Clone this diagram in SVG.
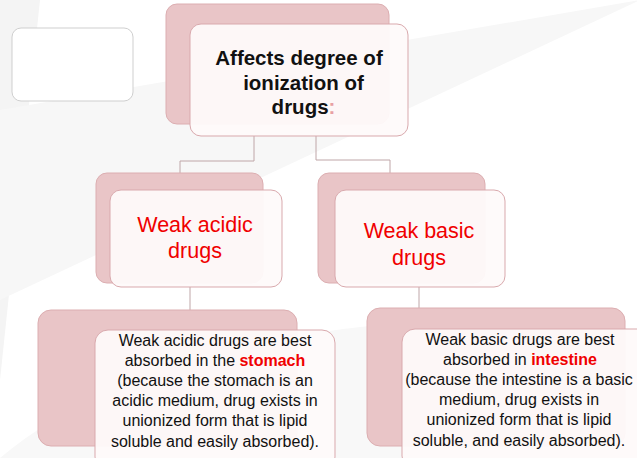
<svg xmlns="http://www.w3.org/2000/svg" width="637" height="458" viewBox="0 0 637 458">
<style>
.back{fill:#e9c5c7;stroke:#dcaeb1;stroke-width:1}
.front{fill:#fefafa;fill-opacity:0.95;stroke:#d9a9ad;stroke-width:1}
.conn{fill:none;stroke:#bfa6a8;stroke-width:1}
.t{font-family:"Liberation Sans",Arial,sans-serif;text-anchor:middle}
.title{font-size:20.5px;font-weight:bold;fill:#111}
.red{font-size:21.5px;fill:#f00000}
.body{font-size:16px;fill:#111}
.hl{fill:#f00000;font-weight:bold}
</style>
<rect width="637" height="458" fill="#ffffff"/>
<path d="M0,0 L40,0 L0,380 Z" fill="#f4f4f4"/>
<path d="M0,110 L640,0 L0,300 Z" fill="#f7f7f7"/>
<path d="M0,458 C150,330 450,300 637,330 L637,458 Z" fill="#f8f8f8"/>
<g id="blank">
<rect x="12" y="28" width="121" height="73" rx="9" fill="#ffffff" stroke="#cfcfcf"/>
</g>
<g id="connectors">
<path class="conn" d="M254,136 V161 H180 V173"/>
<path class="conn" d="M316,136 V160 H390 V173"/>
<path class="conn" d="M190,287 V310"/>
<path class="conn" d="M419,287 V308"/>
</g>
<g id="top">
<rect class="back" x="166" y="4" width="223" height="120" rx="11"/>
<rect class="front" x="190" y="24" width="218" height="112" rx="11"/>
<text class="t title" x="299" y="65">Affects degree of</text>
<text class="t title" x="303.5" y="90">ionization of</text>
<text class="t title" x="303.5" y="114">drugs<tspan fill="#e8a0a4">:</tspan></text>
</g>
<g id="acidic">
<rect class="back" x="96" y="173" width="167" height="110" rx="11"/>
<rect class="front" x="110" y="190" width="172" height="97" rx="11"/>
<text class="t red" x="195" y="232">Weak acidic</text>
<text class="t red" x="195" y="258">drugs</text>
</g>
<g id="basic">
<rect class="back" x="318" y="173" width="167" height="110" rx="11"/>
<rect class="front" x="335" y="190" width="170" height="97" rx="11"/>
<text class="t red" x="419" y="238">Weak basic</text>
<text class="t red" x="419" y="265">drugs</text>
</g>
<g id="acidic-detail">
<rect class="back" x="38" y="310" width="259" height="136" rx="13"/>
<rect class="front" x="95" y="330" width="240" height="140" rx="13"/>
<text class="t body" x="215" y="346">Weak acidic drugs are best</text>
<text class="t body" x="215" y="366">absorbed in the <tspan class="hl">stomach</tspan></text>
<text class="t body" x="215" y="386">(because the stomach is an</text>
<text class="t body" x="215" y="406">acidic medium, drug exists in</text>
<text class="t body" x="215" y="426">unionized form that is lipid</text>
<text class="t body" x="215" y="447">soluble and easily absorbed).</text>
</g>
<g id="basic-detail">
<rect class="back" x="367" y="308" width="258" height="138" rx="13"/>
<rect class="front" x="402" y="329" width="250" height="140" rx="13"/>
<text class="t body" x="520" y="345">Weak basic drugs are best</text>
<text class="t body" x="520" y="365">absorbed in <tspan class="hl">intestine</tspan></text>
<text class="t body" x="519" y="385">(because the intestine is a basic</text>
<text class="t body" x="519" y="405">medium, drug exists in</text>
<text class="t body" x="519" y="425">unionized form that is lipid</text>
<text class="t body" x="519" y="446">soluble, and easily absorbed).</text>
</g>
</svg>
